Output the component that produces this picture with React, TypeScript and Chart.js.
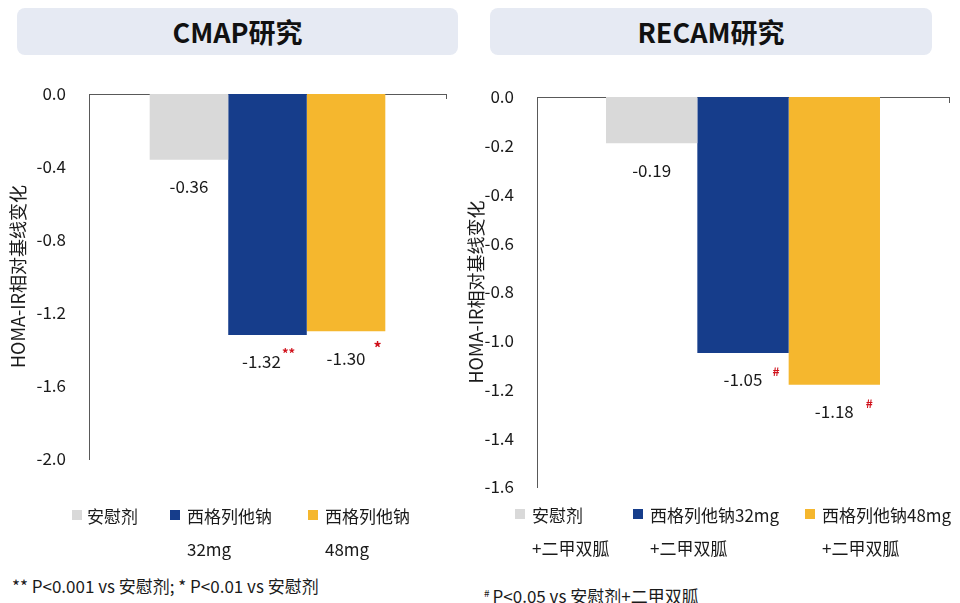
import React, { useEffect, useRef } from "react";
import { Chart, registerables } from "chart.js";

Chart.register(...registerables);

const FONT = '"Noto Sans CJK SC", "Noto Sans", sans-serif';
const TEXT = "#1a1a1a";
const AXIS = "#595959";
const MARK = "#d0111b";

// ---------- shared ----------
const yAxisTitle = "HOMA-IR相对基线变化";
const seriesColors = ["#d9d9d9", "#163d8b", "#f5b72e"];

// ---------- CMAP ----------
const cmapTitle = "CMAP研究";
const cmapSeries = [["安慰剂"], ["西格列他钠", "32mg"], ["西格列他钠", "48mg"]];
const cmapValues = [-0.36, -1.32, -1.3];
const cmapMarks = ["", "**", "*"];
const cmapYMin = -2.0;
const cmapYMax = 0;
const cmapYStep = 0.4;
const cmapNote = "** P<0.001 vs 安慰剂; * P<0.01 vs 安慰剂";

// ---------- RECAM ----------
const recamTitle = "RECAM研究";
const recamSeries = [
  ["安慰剂", "+二甲双胍"],
  ["西格列他钠32mg", "+二甲双胍"],
  ["西格列他钠48mg", "+二甲双胍"],
];
const recamValues = [-0.19, -1.05, -1.18];
const recamMarks = ["", "#", "#"];
const recamYMin = -1.6;
const recamYMax = 0;
const recamYStep = 0.2;
const recamNoteMark = "#";
const recamNote = "P<0.05 vs 安慰剂+二甲双胍";

type Layout = {
  left: number;
  top: number;
  width: number;
  height: number;
  padding: { left: number; right: number; top: number; bottom: number };
  axisWidth: number;
  titlePad: number;
  catPct: number;
  labelShift: number[];
  markGap: number[];
  endTick: number;
};

function makeLabelPlugin(marks: string[], lay: Layout) {
  return {
    id: "valueLabels",
    afterDatasetsDraw(chart: any) {
      const ctx = chart.ctx;
      ctx.save();
      chart.data.datasets.forEach((ds: any, i: number) => {
        const el = chart.getDatasetMeta(i).data[0];
        if (!el) return;
        const v = ds.data[0] as number;
        const text = v.toFixed(2);
        const x = el.x + (lay.labelShift[i] || 0);
        const y = el.y + 27;
        ctx.font = `17px ${FONT}`;
        ctx.fillStyle = TEXT;
        ctx.textAlign = "center";
        ctx.textBaseline = "middle";
        ctx.fillText(text, x, y);
        const m = marks[i];
        if (m) {
          const w = ctx.measureText(text).width;
          ctx.font = `bold ${m === "*" ? 16 : m === "**" ? 13 : 12}px ${FONT}`;
          ctx.fillStyle = MARK;
          ctx.textAlign = "left";
          ctx.textBaseline = "alphabetic";
          ctx.fillText(m, x + w / 2 + (lay.markGap[i] || 0), y - 4);
        }
      });
      const { right, top } = chart.chartArea;
      ctx.strokeStyle = AXIS;
      ctx.lineWidth = 1;
      ctx.beginPath();
      ctx.moveTo(Math.round(right) + 0.5, top);
      ctx.lineTo(Math.round(right) + 0.5, top + lay.endTick);
      ctx.stroke();
      ctx.restore();
    },
  };
}

function BarPanel(props: {
  series: string[][];
  values: number[];
  marks: string[];
  yMin: number;
  yMax: number;
  yStep: number;
  lay: Layout;
}) {
  const ref = useRef<HTMLCanvasElement | null>(null);
  const { series, values, marks, yMin, yMax, yStep, lay } = props;
  useEffect(() => {
    if (!ref.current) return;
    const chart = new Chart(ref.current, {
      type: "bar",
      data: {
        labels: [""],
        datasets: series.map((s, i) => ({
          label: s.join(""),
          data: [values[i]],
          backgroundColor: seriesColors[i],
          borderWidth: 0,
          categoryPercentage: lay.catPct,
          barPercentage: 1.0,
        })),
      },
      options: {
        animation: false,
        responsive: false,
        maintainAspectRatio: false,
        layout: { padding: lay.padding },
        plugins: {
          legend: { display: false },
          tooltip: { enabled: false },
        },
        scales: {
          x: {
            position: "top",
            grid: { display: false, drawTicks: false },
            ticks: { display: false },
            border: { display: true, color: AXIS, width: 1 },
            afterFit: (s: any) => {
              s.height = 0;
            },
          },
          y: {
            min: yMin,
            max: yMax,
            grid: { display: false, drawTicks: false },
            border: { display: true, color: AXIS, width: 1 },
            ticks: {
              stepSize: yStep,
              padding: 23,
              color: TEXT,
              font: { family: FONT, size: 17 },
              callback: (v: any) => Number(v).toFixed(1),
            },
            title: {
              display: true,
              text: yAxisTitle,
              color: TEXT,
              font: { family: FONT, size: 18 },
              padding: { top: lay.titlePad, bottom: 0 },
            },
            afterFit: (s: any) => {
              s.width = lay.axisWidth;
            },
          },
        },
      } as any,
      plugins: [makeLabelPlugin(marks, lay)],
    });
    return () => chart.destroy();
  }, []);
  return (
    <canvas
      ref={ref}
      width={lay.width}
      height={lay.height}
      style={{ position: "absolute", left: lay.left, top: lay.top, width: lay.width, height: lay.height }}
    />
  );
}

function TitleBox(props: { text: string; left: number; width: number }) {
  return (
    <div
      style={{
        position: "absolute",
        left: props.left,
        top: 8,
        width: props.width,
        height: 47,
        background: "#e6eaf3",
        borderRadius: 8,
        display: "flex",
        alignItems: "center",
        justifyContent: "center",
        fontSize: 27,
        fontWeight: 700,
        color: "#111",
      }}
    >
      {props.text}
    </div>
  );
}

function Legend(props: { series: string[][]; sqX: number[]; textX: number[]; y: number }) {
  const { series, sqX, textX, y } = props;
  return (
    <>
      {series.map((lines, i) => (
        <React.Fragment key={i}>
          <div
            style={{
              position: "absolute",
              left: sqX[i],
              top: y - 5,
              width: 10,
              height: 10,
              background: seriesColors[i],
            }}
          />
          <div
            style={{
              position: "absolute",
              left: textX[i],
              top: y - 16.5,
              fontSize: 17,
              lineHeight: "33.5px",
              whiteSpace: "nowrap",
              color: TEXT,
            }}
          >
            {lines.map((l, j) => (
              <div key={j}>{l}</div>
            ))}
          </div>
        </React.Fragment>
      ))}
    </>
  );
}

const cmapLayout: Layout = {
  left: 0,
  top: 60,
  width: 470,
  height: 433,
  padding: { left: 0, right: 24, top: 34, bottom: 34 },
  axisWidth: 89,
  titlePad: 7,
  catPct: 0.66,
  labelShift: [0, -6, 0],
  markGap: [0, 1, 8],
  endTick: 5,
};

const recamLayout: Layout = {
  left: 464,
  top: 60,
  width: 496,
  height: 461,
  padding: { left: 0, right: 11, top: 37, bottom: 34 },
  axisWidth: 73,
  titlePad: 1,
  catPct: 0.665,
  labelShift: [0, 0, 0],
  markGap: [0, 10, 12],
  endTick: 6,
};

export default function App() {
  return (
    <div
      style={{
        position: "absolute",
        left: 0,
        top: 0,
        width: 960,
        height: 603,
        background: "#fff",
        fontFamily: FONT,
        color: TEXT,
        overflow: "hidden",
      }}
    >
      <TitleBox text={cmapTitle} left={17} width={441} />
      <TitleBox text={recamTitle} left={490} width={442} />
      <BarPanel
        series={cmapSeries}
        values={cmapValues}
        marks={cmapMarks}
        yMin={cmapYMin}
        yMax={cmapYMax}
        yStep={cmapYStep}
        lay={cmapLayout}
      />
      <BarPanel
        series={recamSeries}
        values={recamValues}
        marks={recamMarks}
        yMin={recamYMin}
        yMax={recamYMax}
        yStep={recamYStep}
        lay={recamLayout}
      />
      <Legend series={cmapSeries} sqX={[72, 170, 308]} textX={[87, 187, 325]} y={515} />
      <Legend series={recamSeries} sqX={[515, 633, 805]} textX={[532, 650, 822]} y={514} />
      <div
        style={{
          position: "absolute",
          left: 12,
          top: 586 - 12,
          fontSize: 17,
          lineHeight: "24px",
          whiteSpace: "nowrap",
        }}
      >
        {cmapNote}
      </div>
      <div
        style={{
          position: "absolute",
          left: 484,
          top: 593 - 12,
          fontSize: 17,
          lineHeight: "24px",
          whiteSpace: "nowrap",
        }}
      >
        <span style={{ fontSize: 10, verticalAlign: "6px", marginRight: 3 }}>{recamNoteMark}</span>
        {recamNote}
      </div>
    </div>
  );
}
